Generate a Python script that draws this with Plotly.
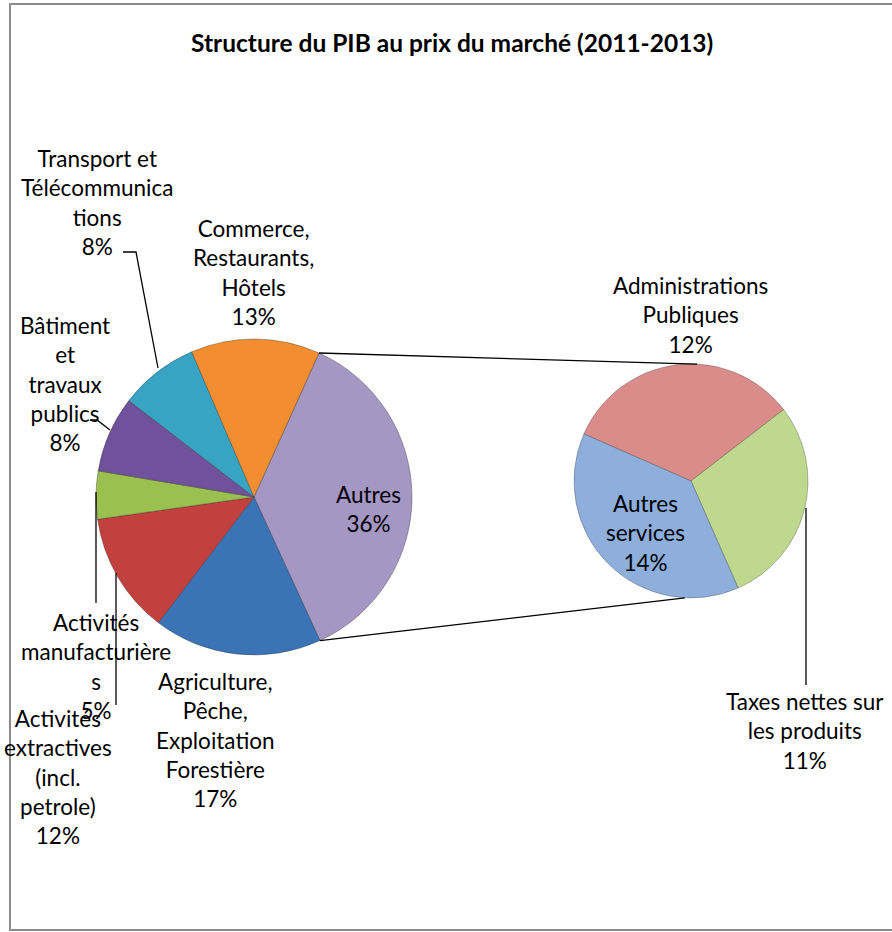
import math

import plotly.graph_objects as go

W, H = 892, 932

# secondary pie (breakdown of "Autres")
second_labels = ["Administrations Publiques", "Taxes nettes sur les produits", "Autres services"]
second_values = [12.0, 10.5, 13.9]
second_colors = ["#D98C8A", "#BED88E", "#8EAEDB"]

# main pie, clockwise starting from "Autres"
main_labels = [
    "Autres",
    "Agriculture, Pêche, Exploitation Forestière",
    "Activités extractives (incl. petrole)",
    "Activités manufacturières",
    "Bâtiment et travaux publics",
    "Transport et Télécommunications",
    "Commerce, Restaurants, Hôtels",
]
main_values = [sum(second_values), 17.2, 12.4, 4.9, 7.8, 8.1, 13.2]
main_colors = ["#A597C4", "#3A73B6", "#C2403D", "#9BC050", "#6F529B", "#38A4C3", "#F38E30"]

label_texts = [
    "Autres<br>36%",
    "Agriculture,<br>Pêche,<br>Exploitation<br>Forestière<br>17%",
    "Activités<br>extractives<br>(incl.<br>petrole)<br>12%",
    "Activités<br>manufacturière<br>s<br>5%",
    "Bâtiment<br>et<br>travaux<br>publics<br>8%",
    "Transport et<br>Télécommunica<br>tions<br>8%",
    "Commerce,<br>Restaurants,<br>Hôtels<br>13%",
    "Administrations<br>Publiques<br>12%",
    "Taxes nettes sur<br>les produits<br>11%",
    "Autres<br>services<br>14%",
]

MAIN_ROT = 24.3
SECOND_ROT = -66.3
FONT = "Lato"


def px(x):
    return x / W


def py(y):
    return 1 - y / H


def domain(cx, cy, r):
    return dict(x=[px(cx - r), px(cx + r)], y=[py(cy + r), py(cy - r)])


main_c, main_r = (254, 497), 158
sec_c, sec_r = (691, 481), 117

fig = go.Figure()

fig.add_trace(go.Pie(
    labels=main_labels,
    values=main_values,
    sort=False,
    direction="clockwise",
    rotation=MAIN_ROT,
    domain=domain(*main_c, main_r),
    marker=dict(colors=main_colors, line=dict(color="rgba(40,40,40,0.35)", width=1)),
    textinfo="none",
    hoverinfo="label+percent",
    showlegend=False,
))

fig.add_trace(go.Pie(
    labels=second_labels,
    values=second_values,
    sort=False,
    direction="clockwise",
    rotation=SECOND_ROT,
    domain=domain(*sec_c, sec_r),
    marker=dict(colors=second_colors, line=dict(color="rgba(40,40,40,0.3)", width=1)),
    textinfo="none",
    hoverinfo="label+value",
    showlegend=False,
))


def on_circle(c, r, deg):
    a = math.radians(deg)
    return c[0] + r * math.sin(a), c[1] - r * math.cos(a)


# connector lines from the edges of "Autres" to the secondary pie
a_start = MAIN_ROT
a_end = MAIN_ROT + main_values[0] / sum(main_values) * 360
p1 = on_circle(main_c, main_r, a_start)
p2 = on_circle(main_c, main_r, a_end)
q1 = on_circle(sec_c, sec_r, 3)
q2 = on_circle(sec_c, sec_r, 183)

shapes = [
    dict(type="line", x0=px(p1[0]), y0=py(p1[1]), x1=px(q1[0]), y1=py(q1[1])),
    dict(type="line", x0=px(p2[0]), y0=py(p2[1]), x1=px(q2[0]), y1=py(q2[1])),
]

# leader lines for outside labels (pixel polylines)
leaders = [
    [(123, 252), (136, 252), (158, 368)],
    [(90, 420), (97, 420), (110, 430)],
    [(96, 492), (96, 603)],
    [(116, 573), (116, 705)],
    [(806, 508), (806, 685)],
]
for pts in leaders:
    path = "M " + " L ".join(f"{px(x)},{py(y)}" for x, y in pts)
    shapes.append(dict(type="path", path=path))

for s in shapes:
    s.update(xref="paper", yref="paper", line=dict(color="black", width=1.3))

# chart area border (right edge falls outside the picture)
shapes.append(dict(
    type="rect", xref="paper", yref="paper",
    x0=px(10), y0=py(930), x1=px(930), y1=py(4),
    line=dict(color="#8C8C8C", width=2),
))

# label positions (pixel centres)
label_pos = [
    (368, 509), (215, 740), (58, 777), (96, 666), (65, 384),
    (97, 202), (253, 272), (690, 315), (805, 731), (645, 533),
]

annotations = [
    dict(
        x=px(x), y=py(y), xref="paper", yref="paper", text=t,
        showarrow=False, xanchor="center", yanchor="middle", align="center",
        font=dict(family=FONT, size=22.5, color="black"),
    )
    for t, (x, y) in zip(label_texts, label_pos)
]

annotations.append(dict(
    x=px(452), y=py(43), xref="paper", yref="paper",
    text="<b>Structure du PIB au prix du marché (2011-2013)</b>",
    showarrow=False, xanchor="center", yanchor="middle",
    font=dict(family=FONT, size=24.5, color="black"),
))

fig.update_layout(
    width=W,
    height=H,
    margin=dict(l=0, r=0, t=0, b=0),
    paper_bgcolor="white",
    plot_bgcolor="white",
    shapes=shapes,
    annotations=annotations,
)

fig.write_html(
    "out.html",
    config={"displayModeBar": False},
    post_script="document.body.style.margin='0';",
)
